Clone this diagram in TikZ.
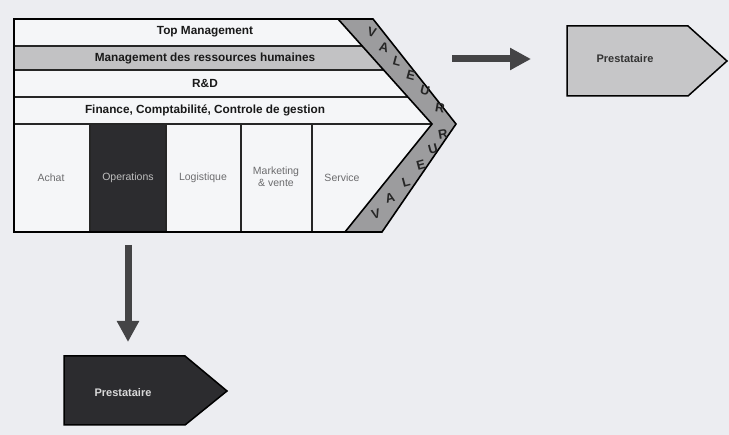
\documentclass[tikz,border=0pt]{standalone}
\usepackage{fontspec}
\setmainfont{Liberation Sans}
\usetikzlibrary{arrows.meta}
\definecolor{paper}{HTML}{ECEDF1}
\definecolor{cell}{HTML}{F5F6F8}
\definecolor{hrgray}{HTML}{C2C2C4}
\definecolor{bandgray}{HTML}{9C9C9E}
\definecolor{darkcell}{HTML}{2C2C2F}
\definecolor{lightbox}{HTML}{C6C6C8}
\definecolor{arrowgray}{HTML}{444446}
\definecolor{softtext}{HTML}{6C6C6E}
\begin{document}
\begin{tikzpicture}[x=1pt,y=-1pt,
  rowlabel/.style={font=\fontsize{11.8}{13}\selectfont\bfseries, text=black!90, inner sep=0pt},
  celllabel/.style={font=\fontsize{10.5}{11.5}\selectfont, text=softtext, inner sep=0pt, align=center},
  bandletter/.style={font=\fontsize{13}{14}\selectfont\bfseries, text=black!85, inner sep=0pt},
  outline/.style={draw=black, line width=1.6pt, line join=miter},
  divider/.style={draw=black!85, line width=1.1pt},
  fatarrow/.style={draw=arrowgray, line width=7pt, -{Triangle[width=21pt,length=21pt]}},
  provider/.style={draw=black, line width=1.5pt, line join=miter},
  providerlabel/.style={font=\fontsize{11}{12}\selectfont\bfseries, inner sep=0pt}]
  \fill[paper] (0,0) rectangle (729,435);
  \useasboundingbox (0,0) rectangle (729,435);

  % value chain outline
  \coordinate (tl) at (14,19);
  \coordinate (bl) at (14,232);
  \coordinate (itr) at (338,19);
  \coordinate (otr) at (373,19);
  \coordinate (itip) at (432,124);
  \coordinate (otip) at (456,124);
  \coordinate (ibr) at (345,232);
  \coordinate (obr) at (382,232);

  % body and shaded areas
  \fill[cell] (tl) -- (itr) -- (itip) -- (ibr) -- (bl) -- cycle;
  \fill[hrgray] (14,46) -- (362.2,46) -- (383.7,70) -- (14,70) -- cycle;
  \fill[darkcell] (90,124) rectangle (166,232);
  \fill[bandgray] (itr) -- (otr) -- (otip) -- (obr) -- (ibr) -- (itip) -- cycle;

  % support activity rows
  \draw[divider] (14,46) -- (362.2,46);
  \draw[divider] (14,70) -- (383.7,70);
  \draw[divider] (14,97) -- (407.8,97);
  \draw[divider] (14,124) -- (itip);
  % primary activity columns
  \foreach \cx in {90,166,241,312}
    \draw[divider] (\cx,124) -- (\cx,232);
  % inner edge of the margin band
  \draw[outline] (itr) -- (itip) -- (ibr);
  % outer contour
  \draw[outline] (tl) -- (otr) -- (otip) -- (obr) -- (bl) -- cycle;

  % row labels
  \node[rowlabel] (top) at (205,32) {Top Management};
  \node[rowlabel] (hr) at (205,58) {Management des ressources humaines};
  \node[rowlabel] (rd) at (205,83.5) {R\&D};
  \node[rowlabel] (fin) at (205,110.5) {Finance, Comptabilité, Controle de gestion};

  % primary activities
  \node[celllabel] (achat) at (51,178) {Achat};
  \node[celllabel, text=black!25] (ops) at (128,178) {Operations};
  \node[celllabel] (logi) at (203,178) {Logistique};
  \node[celllabel] (mkt) at (276,177) {Marketing\\\& vente};
  \node[celllabel] (serv) at (342,178) {Service};

  % margin band letters
  \node[bandletter, rotate=-15] (v1) at (372,32) {V};
  \node[bandletter, rotate=-15] (a1) at (384,47) {A};
  \node[bandletter, rotate=-15] (l1) at (397,61) {L};
  \node[bandletter, rotate=-15] (e1) at (411,75) {E};
  \node[bandletter, rotate=-15] (u1) at (425,90) {U};
  \node[bandletter, rotate=-10] (r1) at (440,108) {R};
  \node[bandletter, rotate=10] (r2) at (443,134) {R};
  \node[bandletter, rotate=15] (u2) at (433,149) {U};
  \node[bandletter, rotate=15] (e2) at (421,165) {E};
  \node[bandletter, rotate=15] (l2) at (406,182) {L};
  \node[bandletter, rotate=15] (a2) at (390,198) {A};
  \node[bandletter, rotate=15] (v2) at (376,214) {V};

  % external provider, right
  \fill[lightbox] (567,26) -- (688,26) -- (727,61) -- (688,96) -- (567,96) -- cycle;
  \draw[provider] (567,26) -- (688,26) -- (727,61) -- (688,96) -- (567,96) -- cycle;
  \node[providerlabel, text=black!80] (provR) at (625,59) {Prestataire};

  % external provider, below
  \fill[darkcell] (64,356) -- (185,356) -- (227,391) -- (185,425) -- (64,425) -- cycle;
  \draw[provider] (64,356) -- (185,356) -- (227,391) -- (185,425) -- (64,425) -- cycle;
  \node[providerlabel, text=black!15] (provB) at (123,393) {Prestataire};

  % outsourcing arrows
  \coordinate (rs) at (452,59);
  \coordinate (re) at (531,59);
  \coordinate (ds) at (128,245);
  \coordinate (de) at (128,342);
  \draw[fatarrow] (rs) -- (re);
  \draw[fatarrow] (ds) -- (de);
\end{tikzpicture}
\end{document}
